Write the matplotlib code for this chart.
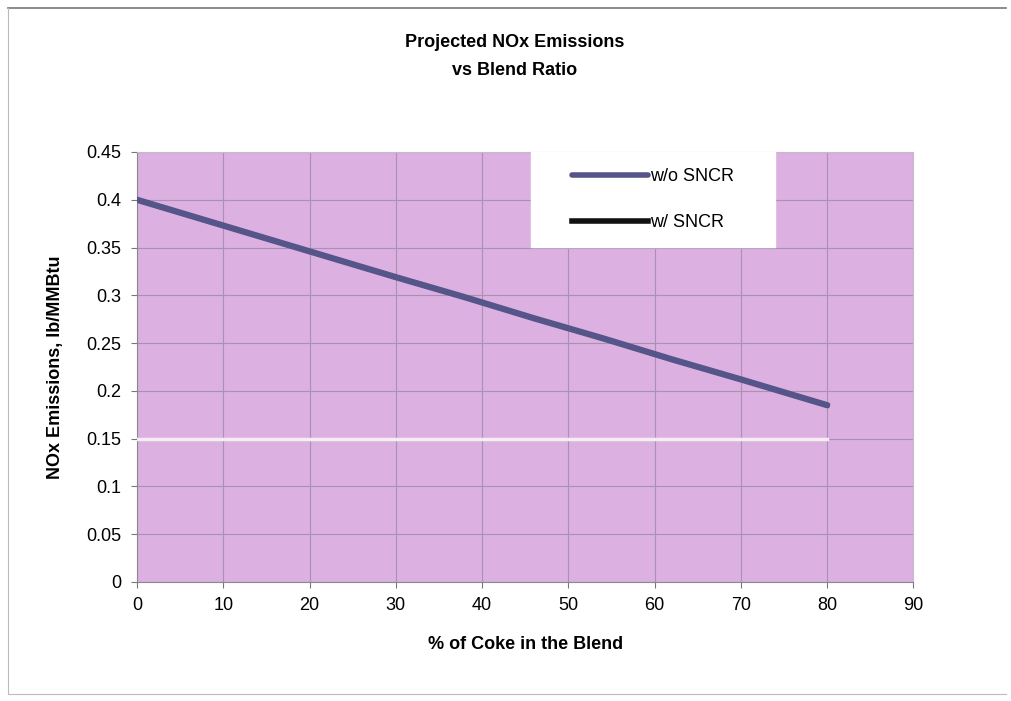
import matplotlib
matplotlib.use("Agg")
import matplotlib.pyplot as plt

# % of coke in the blend and projected NOx, lb/MMBtu
coke_pct = [0, 10, 20, 30, 38, 42, 46, 54, 62, 70, 80]
nox_wo_sncr = [0.400, 0.373, 0.346, 0.319, 0.298, 0.287, 0.276, 0.255, 0.233, 0.212, 0.185]
nox_w_sncr = [0.400, 0.373, 0.346, 0.319, 0.298, 0.287, 0.276, 0.255, 0.233, 0.212, 0.185]
limit_x = [0, 80]
limit_y = [0.15, 0.15]

x_ticks = [0, 10, 20, 30, 40, 50, 60, 70, 80, 90]
y_ticks = [0, 0.05, 0.1, 0.15, 0.2, 0.25, 0.3, 0.35, 0.4, 0.45]
y_labels = ["0", "0.05", "0.1", "0.15", "0.2", "0.25", "0.3", "0.35", "0.4", "0.45"]

plt.rcParams['font.family'] = ['Liberation Sans Narrow', 'Liberation Sans', 'DejaVu Sans']

fig = plt.figure(figsize=(10.11, 7.01), dpi=100, facecolor="white")
ax = fig.add_axes([0.1355, 0.1698, 0.768, 0.6134])
ax.set_facecolor("#dcb0e0")

# outer frame of the scanned sheet
fig.add_artist(plt.Line2D([0.008, 0.995], [0.988, 0.988], color="#777777", lw=1.2))
fig.add_artist(plt.Line2D([0.008, 0.008], [0.01, 0.988], color="#bbbbbb", lw=0.8))
fig.add_artist(plt.Line2D([0.008, 0.995], [0.01, 0.01], color="#bbbbbb", lw=0.8))

ax.plot(limit_x, limit_y, color="#f4eef0", lw=2.5, zorder=3)
ax.plot(coke_pct, nox_w_sncr, color="#111111", lw=3.5, label="w/ SNCR", zorder=4)
ax.plot(coke_pct, nox_wo_sncr, color="#55558a", lw=4.5, label="w/o SNCR",
        solid_capstyle="round", zorder=5)

ax.set_xlim(0, 90)
ax.set_ylim(0, 0.45)
ax.set_xticks(x_ticks)
ax.set_yticks(y_ticks)
ax.set_yticklabels(y_labels)
ax.tick_params(labelsize=13, length=4, color="#777777", pad=7)
ax.grid(True, color="#a892b4", lw=0.8)
ax.set_axisbelow(True)
for side in ["top", "right"]:
    ax.spines[side].set_color("#c8b8d0")
for side in ["left", "bottom"]:
    ax.spines[side].set_color("#8a8a8a")

ax.set_xlabel("% of Coke in the Blend", fontsize=13, fontweight="bold", labelpad=16)
ax.set_ylabel("NOx Emissions, lb/MMBtu", fontsize=13, fontweight="bold", labelpad=16)
fig.text(0.509, 0.94, "Projected NOx Emissions", ha="center", va="center",
         fontsize=13, fontweight="bold")
fig.text(0.509, 0.90, "vs Blend Ratio", ha="center", va="center",
         fontsize=13, fontweight="bold")

handles, labels = ax.get_legend_handles_labels()
leg = ax.legend(handles[::-1], labels[::-1], loc="upper left",
                bbox_to_anchor=(0.507, 1.0), fontsize=13, frameon=True,
                fancybox=False, edgecolor="white", framealpha=1,
                handlelength=4.2, borderpad=0.9, labelspacing=1.6,
                handletextpad=0.1, borderaxespad=0, handleheight=0.7)
leg._legend_box.set_width(212)
for line in leg.get_lines():
    line.set_linewidth(4)

fig.savefig("out.png", dpi=100, facecolor="white")
